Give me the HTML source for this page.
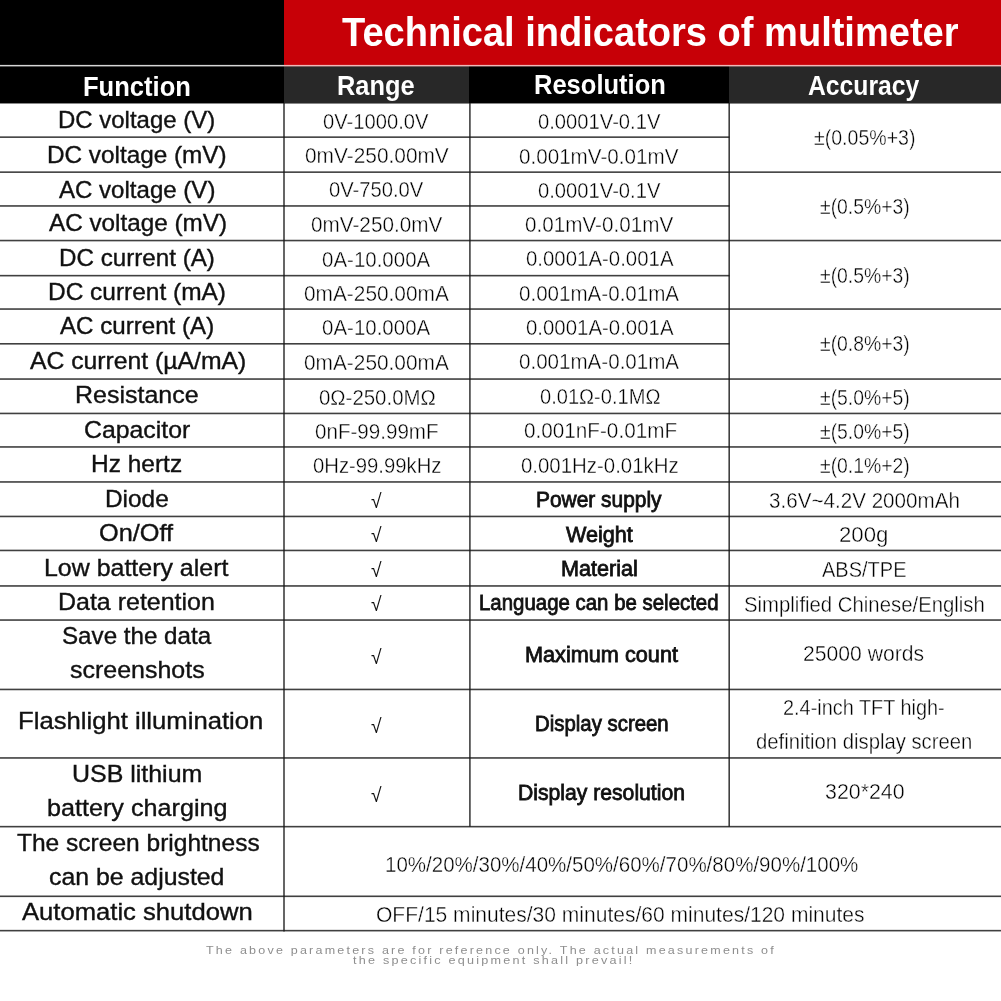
<!DOCTYPE html>
<html lang="en"><head><meta charset="utf-8"><title>Technical indicators of multimeter</title>
<style>
html,body{margin:0;padding:0;background:#fff}
body{width:1001px;height:1001px;position:relative;overflow:hidden;font-family:"Liberation Sans",sans-serif}
#sheet{position:absolute;left:0;top:0;width:1001px;height:1001px;overflow:hidden;background:#fff}
.t{position:absolute;white-space:nowrap;transform-origin:0 0;display:block}
.T,.H{font-weight:700;color:#fff}
.F{color:#111;-webkit-text-stroke:0.38px #111}
.V{color:#000;-webkit-text-stroke:0.4px #fff}
.C{color:#111}
.B{color:#111;-webkit-text-stroke:0.8px #111}
.N{color:#8e8e8e}
.hl{position:absolute;left:0;height:2px;background:rgba(0,0,0,.68)}
.vl{position:absolute;width:2px;background:rgba(0,0,0,.62)}
.blk{position:absolute}
</style></head><body><div id="sheet">
<div class="blk" style="left:0;top:0;width:284px;height:65px;background:#000"></div>
<div class="blk" style="left:284px;top:0;width:717px;height:65px;background:#c70007"></div>

<div class="blk" style="left:0;top:65px;width:284px;height:38px;background:#000"></div>
<div class="blk" style="left:284px;top:65px;width:185px;height:38px;background:#282828"></div>
<div class="blk" style="left:469px;top:65px;width:260px;height:38px;background:#000"></div>
<div class="blk" style="left:729px;top:65px;width:272px;height:38px;background:#282828"></div>
<svg id="grid" width="1001" height="1001" viewBox="0 0 1001 1001" style="position:absolute;left:0;top:0"><rect x="0" y="64.9" width="284" height="1.5" fill="#d6d6d6"/><rect x="284" y="64.9" width="717" height="1.5" fill="#f2b8b8"/><rect x="0" y="103" width="1001" height="0.5" fill="#111"/><g fill="#161616" fill-opacity="0.82"><rect x="0" y="171.35" width="1001" height="1.6"/><rect x="0" y="239.75" width="1001" height="1.6"/><rect x="0" y="308.25" width="1001" height="1.6"/><rect x="0" y="378.25" width="1001" height="1.6"/><rect x="0" y="412.65" width="1001" height="1.6"/><rect x="0" y="446.15" width="1001" height="1.6"/><rect x="0" y="481.15" width="1001" height="1.6"/><rect x="0" y="515.65" width="1001" height="1.6"/><rect x="0" y="549.65" width="1001" height="1.6"/><rect x="0" y="585.15" width="1001" height="1.6"/><rect x="0" y="619.25" width="1001" height="1.6"/><rect x="0" y="688.65" width="1001" height="1.6"/><rect x="0" y="757.15" width="1001" height="1.6"/><rect x="0" y="825.85" width="1001" height="1.6"/><rect x="0" y="895.50" width="1001" height="1.6"/><rect x="0" y="929.85" width="1001" height="1.6"/><rect x="0" y="136.35" width="729.5" height="1.6"/><rect x="0" y="205.15" width="729.5" height="1.6"/><rect x="0" y="274.85" width="729.5" height="1.6"/><rect x="0" y="343.00" width="729.5" height="1.6"/><rect x="283.20" y="103" width="1.6" height="828.50"/><rect x="469.10" y="103" width="1.6" height="723.60"/><rect x="728.40" y="103" width="1.6" height="723.60"/></g></svg>
<span class="t T" style="left:342.00px;top:12px;font-size:39.97px;line-height:40px;transform:scaleX(0.9518)">Technical indicators of multimeter</span>
<span class="t H" style="left:82.75px;top:74px;font-size:27.03px;line-height:27px;transform:scaleX(0.9459)">Function</span>
<span class="t H" style="left:337.46px;top:73px;font-size:27.03px;line-height:27px;transform:scaleX(0.9394)">Range</span>
<span class="t H" style="left:533.77px;top:71px;font-size:27.33px;line-height:27px;transform:scaleX(0.9336)">Resolution</span>
<span class="t H" style="left:807.80px;top:73px;font-size:26.74px;line-height:27px;transform:scaleX(0.9244)">Accuracy</span>
<span class="t F" style="left:58.26px;top:107px;font-size:24.71px;line-height:25px;transform:scaleX(0.9700)">DC voltage (V)</span>
<span class="t F" style="left:47.13px;top:142px;font-size:24.71px;line-height:25px;transform:scaleX(0.9841)">DC voltage (mV)</span>
<span class="t F" style="left:59.00px;top:177px;font-size:24.71px;line-height:25px;transform:scaleX(0.9736)">AC voltage (V)</span>
<span class="t F" style="left:48.80px;top:210px;font-size:24.71px;line-height:25px;transform:scaleX(0.9823)">AC voltage (mV)</span>
<span class="t F" style="left:58.74px;top:245px;font-size:24.71px;line-height:25px;transform:scaleX(0.9789)">DC current (A)</span>
<span class="t F" style="left:47.92px;top:279px;font-size:24.71px;line-height:25px;transform:scaleX(0.9900)">DC current (mA)</span>
<span class="t F" style="left:60.40px;top:313px;font-size:24.71px;line-height:25px;transform:scaleX(0.9768)">AC current (A)</span>
<span class="t F" style="left:29.50px;top:348px;font-size:24.71px;line-height:25px;transform:scaleX(1.0015)">AC current (µA/mA)</span>
<span class="t F" style="left:75.18px;top:382px;font-size:24.71px;line-height:25px;transform:scaleX(1.0112)">Resistance</span>
<span class="t F" style="left:83.60px;top:417px;font-size:24.71px;line-height:25px;transform:scaleX(1.0048)">Capacitor</span>
<span class="t F" style="left:90.82px;top:451px;font-size:24.71px;line-height:25px;transform:scaleX(0.9908)">Hz hertz</span>
<span class="t F" style="left:105.33px;top:486px;font-size:24.71px;line-height:25px;transform:scaleX(0.9870)">Diode</span>
<span class="t F" style="left:99.48px;top:520px;font-size:24.71px;line-height:25px;transform:scaleX(1.0245)">On/Off</span>
<span class="t F" style="left:43.98px;top:555px;font-size:24.71px;line-height:25px;transform:scaleX(1.0096)">Low battery alert</span>
<span class="t F" style="left:58.18px;top:589px;font-size:24.71px;line-height:25px;transform:scaleX(1.0109)">Data retention</span>
<span class="t F" style="left:62.02px;top:623px;font-size:24.71px;line-height:25px;transform:scaleX(0.9782)">Save the data</span>
<span class="t F" style="left:70.00px;top:657px;font-size:24.71px;line-height:25px;transform:scaleX(1.0110)">screenshots</span>
<span class="t F" style="left:17.82px;top:708px;font-size:24.71px;line-height:25px;transform:scaleX(1.0389)">Flashlight illumination</span>
<span class="t F" style="left:72.19px;top:761px;font-size:24.71px;line-height:25px;transform:scaleX(1.0098)">USB lithium</span>
<span class="t F" style="left:46.68px;top:795px;font-size:24.71px;line-height:25px;transform:scaleX(1.0188)">battery charging</span>
<span class="t F" style="left:16.50px;top:830px;font-size:24.71px;line-height:25px;transform:scaleX(0.9928)">The screen brightness</span>
<span class="t F" style="left:49.49px;top:864px;font-size:24.71px;line-height:25px;transform:scaleX(1.0058)">can be adjusted</span>
<span class="t F" style="left:22.10px;top:899px;font-size:24.71px;line-height:25px;transform:scaleX(1.0369)">Automatic shutdown</span>
<span class="t V" style="left:323.20px;top:110px;font-size:22.67px;line-height:23px;transform:scaleX(0.8902)">0V-1000.0V</span>
<span class="t V" style="left:304.60px;top:144px;font-size:22.67px;line-height:23px;transform:scaleX(0.9207)">0mV-250.00mV</span>
<span class="t V" style="left:328.70px;top:178px;font-size:22.67px;line-height:23px;transform:scaleX(0.8913)">0V-750.0V</span>
<span class="t V" style="left:310.70px;top:213px;font-size:22.67px;line-height:23px;transform:scaleX(0.9145)">0mV-250.0mV</span>
<span class="t V" style="left:322.20px;top:248px;font-size:22.67px;line-height:23px;transform:scaleX(0.9042)">0A-10.000A</span>
<span class="t V" style="left:304.00px;top:282px;font-size:22.67px;line-height:23px;transform:scaleX(0.9198)">0mA-250.00mA</span>
<span class="t V" style="left:322.20px;top:316px;font-size:22.67px;line-height:23px;transform:scaleX(0.9042)">0A-10.000A</span>
<span class="t V" style="left:304.00px;top:351px;font-size:22.67px;line-height:23px;transform:scaleX(0.9198)">0mA-250.00mA</span>
<span class="t V" style="left:318.50px;top:386px;font-size:22.67px;line-height:23px;transform:scaleX(0.9009)">0Ω-250.0MΩ</span>
<span class="t V" style="left:315.30px;top:420px;font-size:22.67px;line-height:23px;transform:scaleX(0.9086)">0nF-99.99mF</span>
<span class="t V" style="left:312.60px;top:454px;font-size:22.67px;line-height:23px;transform:scaleX(0.8951)">0Hz-99.99kHz</span>
<span class="t V" style="left:537.80px;top:110px;font-size:22.67px;line-height:23px;transform:scaleX(0.8915)">0.0001V-0.1V</span>
<span class="t V" style="left:518.90px;top:145px;font-size:22.67px;line-height:23px;transform:scaleX(0.9105)">0.001mV-0.01mV</span>
<span class="t V" style="left:537.80px;top:179px;font-size:22.67px;line-height:23px;transform:scaleX(0.8915)">0.0001V-0.1V</span>
<span class="t V" style="left:524.80px;top:213px;font-size:22.67px;line-height:23px;transform:scaleX(0.9122)">0.01mV-0.01mV</span>
<span class="t V" style="left:525.60px;top:247px;font-size:22.67px;line-height:23px;transform:scaleX(0.9007)">0.0001A-0.001A</span>
<span class="t V" style="left:518.90px;top:282px;font-size:22.67px;line-height:23px;transform:scaleX(0.9080)">0.001mA-0.01mA</span>
<span class="t V" style="left:525.60px;top:316px;font-size:22.67px;line-height:23px;transform:scaleX(0.9007)">0.0001A-0.001A</span>
<span class="t V" style="left:518.90px;top:350px;font-size:22.67px;line-height:23px;transform:scaleX(0.9080)">0.001mA-0.01mA</span>
<span class="t V" style="left:539.60px;top:385px;font-size:22.67px;line-height:23px;transform:scaleX(0.8863)">0.01Ω-0.1MΩ</span>
<span class="t V" style="left:523.50px;top:419px;font-size:22.67px;line-height:23px;transform:scaleX(0.9139)">0.001nF-0.01mF</span>
<span class="t V" style="left:520.90px;top:454px;font-size:22.67px;line-height:23px;transform:scaleX(0.9009)">0.001Hz-0.01kHz</span>
<span class="t B" style="left:536.34px;top:489px;font-size:21.8px;line-height:22px;transform:scaleX(0.9596)">Power supply</span>
<span class="t B" style="left:566.20px;top:524px;font-size:21.8px;line-height:22px;transform:scaleX(0.9913)">Weight</span>
<span class="t B" style="left:560.81px;top:558px;font-size:21.8px;line-height:22px;transform:scaleX(0.9923)">Material</span>
<span class="t B" style="left:479.36px;top:592px;font-size:21.8px;line-height:22px;transform:scaleX(0.9369)">Language can be selected</span>
<span class="t B" style="left:525.41px;top:644px;font-size:21.8px;line-height:22px;transform:scaleX(0.9943)">Maximum count</span>
<span class="t B" style="left:535.26px;top:713px;font-size:21.8px;line-height:22px;transform:scaleX(0.9352)">Display screen</span>
<span class="t B" style="left:518.43px;top:782px;font-size:21.8px;line-height:22px;transform:scaleX(0.9705)">Display resolution</span>
<span class="t V" style="left:814.00px;top:127px;font-size:22.38px;line-height:22px;transform:scaleX(0.8739)">±(0.05%+3)</span>
<span class="t V" style="left:819.50px;top:196px;font-size:22.38px;line-height:22px;transform:scaleX(0.8659)">±(0.5%+3)</span>
<span class="t V" style="left:819.50px;top:265px;font-size:22.38px;line-height:22px;transform:scaleX(0.8659)">±(0.5%+3)</span>
<span class="t V" style="left:819.50px;top:333px;font-size:22.38px;line-height:22px;transform:scaleX(0.8659)">±(0.8%+3)</span>
<span class="t V" style="left:819.50px;top:387px;font-size:22.38px;line-height:22px;transform:scaleX(0.8659)">±(5.0%+5)</span>
<span class="t V" style="left:819.50px;top:421px;font-size:22.38px;line-height:22px;transform:scaleX(0.8659)">±(5.0%+5)</span>
<span class="t V" style="left:819.50px;top:455px;font-size:22.38px;line-height:22px;transform:scaleX(0.8659)">±(0.1%+2)</span>
<span class="t V" style="left:769.00px;top:489px;font-size:22.67px;line-height:23px;transform:scaleX(0.9105)">3.6V~4.2V 2000mAh</span>
<span class="t V" style="left:839.22px;top:523px;font-size:22.67px;line-height:23px;transform:scaleX(0.9795)">200g</span>
<span class="t V" style="left:822.00px;top:558px;font-size:22.67px;line-height:23px;transform:scaleX(0.8830)">ABS/TPE</span>
<span class="t V" style="left:743.60px;top:593px;font-size:22.67px;line-height:23px;transform:scaleX(0.8979)">Simplified Chinese/English</span>
<span class="t V" style="left:803.37px;top:642px;font-size:22.67px;line-height:23px;transform:scaleX(0.9330)">25000 words</span>
<span class="t V" style="left:783.02px;top:696px;font-size:22.67px;line-height:23px;transform:scaleX(0.8777)">2.4-inch TFT high-</span>
<span class="t V" style="left:755.90px;top:730px;font-size:22.67px;line-height:23px;transform:scaleX(0.8943)">definition display screen</span>
<span class="t V" style="left:824.70px;top:780px;font-size:22.67px;line-height:23px;transform:scaleX(0.9425)">320*240</span>
<span class="t V" style="left:385.29px;top:853px;font-size:22.67px;line-height:23px;transform:scaleX(0.9055)">10%/20%/30%/40%/50%/60%/70%/80%/90%/100%</span>
<span class="t V" style="left:376.47px;top:903px;font-size:22.67px;line-height:23px;transform:scaleX(0.9281)">OFF/15 minutes/30 minutes/60 minutes/120 minutes</span>
<span class="t N" style="left:205.60px;top:945px;font-size:11.34px;line-height:11px;transform:scaleX(1.1054);letter-spacing:2.0px">The above parameters are for reference only. The actual measurements of</span>
<span class="t N" style="left:353.30px;top:955px;font-size:11.34px;line-height:11px;transform:scaleX(1.1135);letter-spacing:2.0px">the specific equipment shall prevail!</span>
<span class="t C" style="left:371.40px;top:491px;font-size:20.0px;line-height:20px;transform:scaleX(0.9636)">√</span>
<span class="t C" style="left:371.40px;top:525px;font-size:20.0px;line-height:20px;transform:scaleX(0.9636)">√</span>
<span class="t C" style="left:371.40px;top:560px;font-size:20.0px;line-height:20px;transform:scaleX(0.9636)">√</span>
<span class="t C" style="left:371.40px;top:594px;font-size:20.0px;line-height:20px;transform:scaleX(0.9636)">√</span>
<span class="t C" style="left:371.40px;top:647px;font-size:20.0px;line-height:20px;transform:scaleX(0.9636)">√</span>
<span class="t C" style="left:371.40px;top:716px;font-size:20.0px;line-height:20px;transform:scaleX(0.9636)">√</span>
<span class="t C" style="left:371.40px;top:785px;font-size:20.0px;line-height:20px;transform:scaleX(0.9636)">√</span>
</div></body></html>
